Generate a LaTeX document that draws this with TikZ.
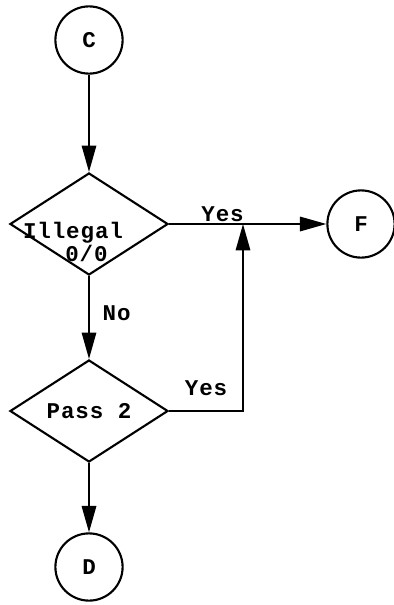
\documentclass[tikz,border=0pt]{standalone}
\usepackage{fontspec}
\setmonofont[LetterSpace=4]{Liberation Mono}
\usetikzlibrary{shapes.geometric,arrows.meta}

\begin{document}
\begin{tikzpicture}[x=0.025cm, y=-0.025cm, line width=1.5pt,
    connector/.style={line width=1.4pt, -{Triangle[length=6.6mm, width=3.6mm]}},
    terminal/.style={circle, draw, minimum size=1.68cm, inner sep=0pt, font=\ttfamily\bfseries\fontsize{16}{16}\selectfont},
    decision/.style={diamond, draw, inner sep=0pt, minimum width=3.95cm, minimum height=2.55cm, font=\ttfamily\bfseries\fontsize{16}{14.2}\selectfont},
    decisiontext/.style={align=left, inner sep=0pt, font=\ttfamily\bfseries\fontsize{16}{14.2}\selectfont},
    tag/.style={font=\ttfamily\bfseries\fontsize{16}{16}\selectfont, inner sep=1pt}]
  \useasboundingbox (0,0) rectangle (394,605);
  \draw
    (89,40) node[terminal] (C){C}
    (89,224) node[decision] (illegal){}
    (73,242) node[decisiontext] (illegaltext){Illegal\\\phantom{Ill}0/0}
    (89,411) node[decision] (pass){Pass 2}
    (89,567) node[terminal] (D){D}
    (361,224) node[terminal] (F){F};
  \coordinate (join) at (243,224);
  \begin{scope}[connector]
    \draw (C) -- (illegal.north);
    \draw (illegal.south) -- node[tag, pos=0.45, right=8pt] (no){No} (pass.north);
    \draw (pass.south) -- (D);
    \draw (illegal.east) -- node[tag, pos=0.34, above=0pt] (yesF){Yes} (F);
    \draw (pass.east) -| node[tag, pos=0.25, above=9pt] (yesP){Yes} (join);
  \end{scope}
\end{tikzpicture}
\end{document}
